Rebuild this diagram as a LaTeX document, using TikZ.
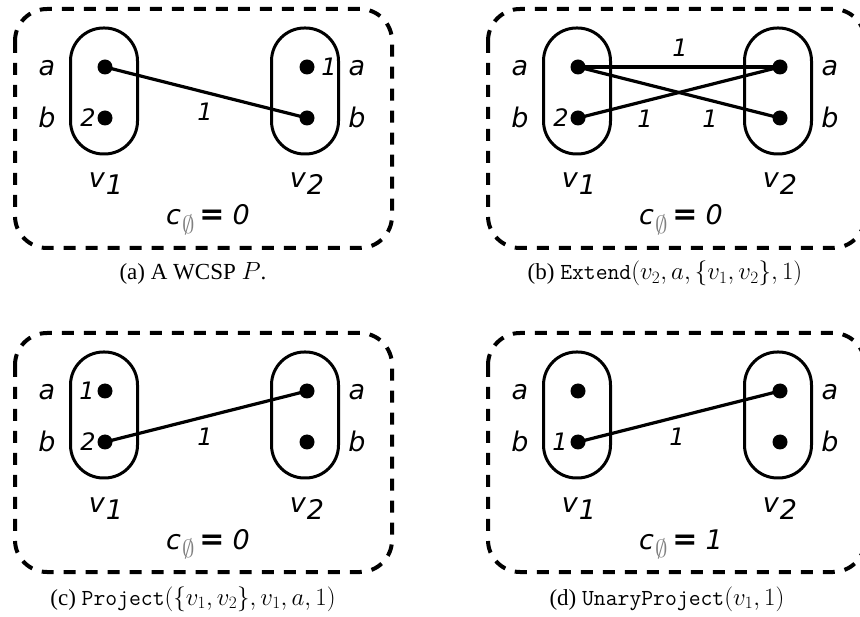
\documentclass[tikz,border=0pt]{standalone}
\usepackage{fontspec}
\setmainfont{Liberation Serif}
\newfontfamily\dv{DejaVu Sans}
\usetikzlibrary{calc}
\tikzset{
  frame/.style={line width=4pt, dash pattern=on 12pt off 10pt, rounded corners=32pt},
  stadium/.style={draw, line width=3pt, minimum width=67pt, minimum height=126pt, rounded corners=33pt, inner sep=0pt},
  dot/.style={circle, fill, inner sep=0pt, minimum size=15pt},
  edge/.style={line width=3.2pt},
  lab/.style={font=\dv\itshape\fontsize{27}{27}\selectfont, inner sep=0pt, anchor=base},
  num/.style={font=\dv\itshape\fontsize{24}{24}\selectfont, inner sep=0pt, anchor=base},
  captxt/.style={font=\fontsize{23}{27}\selectfont, inner sep=0pt, anchor=base}
}
\newcommand\basepanel[2]{%
  \draw[frame] (15,9) rectangle (392,248);
  \node[stadium] (#1s1) at (104,91) {};
  \node[stadium] (#1s2) at (305,91) {};
  \node[dot] (#1a1) at (105,67) {};
  \node[dot] (#1b1) at (105,118) {};
  \node[dot] (#1a2) at (307,67) {};
  \node[dot] (#1b2) at (307,118) {};
  \node[lab] (#1la1) at (47,76) {a};
  \node[lab] (#1lb1) at (47,128) {b};
  \node[lab] (#1la2) at (357,76) {a};
  \node[lab] (#1lb2) at (357,128) {b};
  \node[lab] (#1v1) at (106,188) {v\hspace{1pt}\raisebox{-7pt}{1}};
  \node[lab] (#1v2) at (307,188) {v\hspace{1pt}\raisebox{-7pt}{2}};
  \node[lab] (#1c) at (208,225) {c\hspace{1pt}\raisebox{-9pt}{\textcolor{black!50}{\fontsize{26}{26}\selectfont$\emptyset$}}\hspace{5pt}{\upshape\bfseries\fontsize{30}{30}\selectfont =}\hspace{8pt}#2};
}
\begin{document}
\begin{tikzpicture}[x=1pt,y=-1pt]
\useasboundingbox (0,0) rectangle (860,617);
\fill[white] (0,0) rectangle (860,617);
% (a)
\begin{scope}
  \basepanel{A}{0}
  \node[num] (An2) at (88,127) {2};
  \node[num] (An1) at (329,76) {1};
  \draw[edge] (Aa1.center) -- (Ab2.center);
  \node[num] (Ae) at (205,121) {1};
\end{scope}
\node[captxt] (capa) at (193,280) {(a) A WCSP $P$.};
% (b)
\begin{scope}[shift={(473,0)}]
  \basepanel{B}{0}
  \node[num] (Bn2) at (88,127) {2};
  \draw[edge] (Ba1.center) -- (Ba2.center);
  \draw[edge] (Ba1.center) -- (Bb2.center);
  \draw[edge] (Bb1.center) -- (Ba2.center);
  \node[num] (Be1) at (207,57) {1};
  \node[num] (Be2) at (172,128) {1};
  \node[num] (Be3) at (237,128) {1};
\end{scope}
\node[captxt] (capb) at (665,280) {(b) \texttt{Extend}$(v_2,a,\{v_1,v_2\},1)$};
% (c)
\begin{scope}[shift={(0,324)}]
  \basepanel{C}{0}
  \node[num] (Cn1) at (87,76) {1};
  \node[num] (Cn2) at (88,127) {2};
  \draw[edge] (Cb1.center) -- (Ca2.center);
  \node[num] (Ce) at (205,122) {1};
\end{scope}
\node[captxt] (capc) at (193,605) {(c) \texttt{Project}$(\{v_1,v_2\},v_1,a,1)$};
% (d)
\begin{scope}[shift={(473,324)}]
  \basepanel{D}{1}
  \node[num] (Dn1) at (87,127) {1};
  \draw[edge] (Db1.center) -- (Da2.center);
  \node[num] (De) at (204,122) {1};
\end{scope}
\node[captxt] (capd) at (667,605) {(d) \texttt{UnaryProject}$(v_1,1)$};
\end{tikzpicture}
\end{document}
